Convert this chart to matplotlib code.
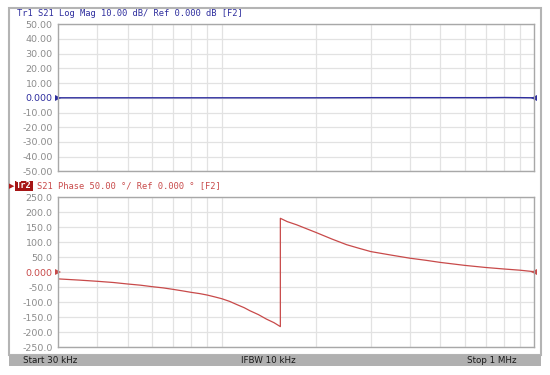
import matplotlib
matplotlib.use("Agg")
import matplotlib.pyplot as plt
from matplotlib.patches import Rectangle

# ---- data ----
mag_freq_khz = [30, 60, 100, 200, 300, 400, 500, 600, 700, 800, 900, 1000]
mag_db = [0.0, 0.0, 0.0, 0.0, 0.1, 0.1, 0.1, 0.1, 0.1, 0.2, 0.1, 0.0]

phase_freq_khz = [30, 35, 40, 45, 50, 55, 60, 65, 70, 75, 80, 85, 90, 95, 100,
                  106, 112, 118, 123, 131, 139, 147, 154,
                  154, 162, 174, 187, 200, 225, 251, 275, 300, 350, 400, 450,
                  500, 600, 700, 800, 900, 1000]
phase_deg = [-22, -26, -30, -34, -39, -43, -48, -52, -57, -62, -67, -71, -76, -82, -88,
             -97, -108, -118, -128, -141, -156, -168, -181,
             180, 169, 158, 145, 133, 111, 92, 80, 69, 57, 47, 40,
             33, 23, 16, 11, 7, 2]

mag_ticks = [50, 40, 30, 20, 10, 0, -10, -20, -30, -40, -50]
mag_tick_labels = ["50.00", "40.00", "30.00", "20.00", "10.00", "0.000",
                   "-10.00", "-20.00", "-30.00", "-40.00", "-50.00"]
phase_ticks = [250, 200, 150, 100, 50, 0, -50, -100, -150, -200, -250]
phase_tick_labels = ["250.0", "200.0", "150.0", "100.0", "50.0", "0.000",
                     "-50.0", "-100.0", "-150.0", "-200.0", "-250.0"]
grid_freq_khz = [40, 50, 60, 70, 80, 90, 100, 200, 300, 400, 500, 600, 700, 800, 900]

title1 = "Tr1 S21 Log Mag 10.00 dB/ Ref 0.000 dB [F2]"
title2 = "S21 Phase 50.00 °/ Ref 0.000 ° [F2]"
status = ["Start 30 kHz", "IFBW 10 kHz", "Stop 1 MHz"]

BLUE = "#2e2e9e"
RED = "#c84a4a"
GRID = "#e2e2e2"
SPINE = "#a8a8a8"
TICKC = "#8c8c8c"

W, H = 550, 375
fig = plt.figure(figsize=(W / 100, H / 100), dpi=100)

def fx(px):
    return px / W

def fy(py):
    return 1 - py / H

# outer frame
fig.add_artist(Rectangle((fx(9), fy(355)), fx(541) - fx(9), fy(8) - fy(355),
                         transform=fig.transFigure, fill=False,
                         edgecolor="#b4b4b4", linewidth=1.5))
# status bar
fig.add_artist(Rectangle((fx(9), fy(366)), fx(541) - fx(9), fy(355) - fy(366),
                         transform=fig.transFigure, facecolor="#b0b0b0",
                         edgecolor="none"))
fig.text(fx(23), fy(360.5), status[0], fontsize=6.3, color="#1a1a1a",
         va="center", ha="left")
fig.text(fx(268), fy(360.5), status[1], fontsize=6.3, color="#1a1a1a",
         va="center", ha="center")
fig.text(fx(517), fy(360.5), status[2], fontsize=6.3, color="#1a1a1a",
         va="center", ha="right")

L, R = 58.3, 534.3
ax1 = fig.add_axes([fx(L), fy(171.3), fx(R) - fx(L), fy(24.3) - fy(171.3)])
ax2 = fig.add_axes([fx(L), fy(347.3), fx(R) - fx(L), fy(197.3) - fy(347.3)])

def style(ax, yt, ylabels, lim, refcolor):
    ax.set_xscale("log")
    ax.set_xlim(30, 1000)
    ax.set_ylim(*lim)
    ax.set_xticks(grid_freq_khz)
    ax.set_xticks([], minor=True)
    ax.set_xticklabels([])
    ax.set_yticks(yt)
    ax.set_yticklabels(ylabels)
    ax.tick_params(length=0, pad=4, labelsize=6.8, labelcolor=TICKC)
    for lab, v in zip(ax.get_yticklabels(), yt):
        if v == 0:
            lab.set_color(refcolor)
    ax.grid(True, color=GRID, linewidth=0.9)
    ax.set_axisbelow(True)
    for s in ax.spines.values():
        s.set_color(SPINE)
        s.set_linewidth(1.0)

style(ax1, mag_ticks, mag_tick_labels, (-50, 50), BLUE)
style(ax2, phase_ticks, phase_tick_labels, (-250, 250), RED)

ax1.plot(mag_freq_khz, mag_db, color=BLUE, linewidth=1.0)
ax2.plot(phase_freq_khz, phase_deg, color=RED, linewidth=0.9)

# reference markers
for ax, c in ((ax1, BLUE), (ax2, RED)):
    ax.plot([0.0], [0.5], marker=">", color=c, markersize=4.5,
            transform=ax.transAxes, clip_on=False, markeredgewidth=0)
    ax.plot([1.0], [0.5], marker="<", color=c, markersize=4.5,
            transform=ax.transAxes, clip_on=False, markeredgewidth=0)

mono = "DejaVu Sans Mono"
fig.text(fx(17), fy(14), title1, fontsize=6.3, color=BLUE, family=mono,
         va="center", ha="left")
fig.text(fx(12), fy(186), "▶", fontsize=5, color="#b01818",
         va="center", ha="center")
fig.text(fx(16), fy(186), "Tr2", fontsize=6.3, color="white", family=mono,
         va="center", ha="left", fontweight="bold",
         bbox=dict(boxstyle="square,pad=0.1", facecolor="#a51515",
                   edgecolor="none"))
fig.text(fx(37), fy(186), title2, fontsize=6.3, color=RED, family=mono,
         va="center", ha="left")

fig.savefig("out.png", dpi=100)
